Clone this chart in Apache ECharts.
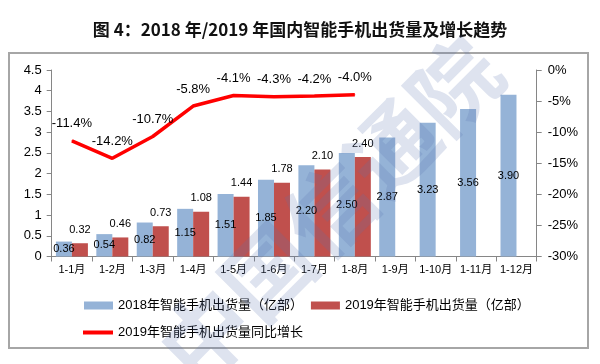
<!DOCTYPE html>
<html>
<head>
<meta charset="utf-8">
<script src="https://cdn.jsdelivr.net/npm/echarts@6/dist/echarts.min.js"></script>
<style>
html,body{margin:0;padding:0;background:#fff;}
#c{width:600px;height:364px;}
</style>
</head>
<body>
<div id="c"></div>
<script>
var categories = ['1-1月','1-2月','1-3月','1-4月','1-5月','1-6月','1-7月','1-8月','1-9月','1-10月','1-11月','1-12月'];
var ship2018 = [0.36,0.54,0.82,1.15,1.51,1.85,2.20,2.50,2.87,3.23,3.56,3.90];
var ship2019 = [0.32,0.46,0.73,1.08,1.44,1.78,2.10,2.40,null,null,null,null];
var growth2019 = [-11.4,-14.2,-10.7,-5.8,-4.1,-4.3,-4.2,-4.0,null,null,null,null];
var name2018 = '2018年智能手机出货量（亿部）';
var name2019 = '2019年智能手机出货量（亿部）';
var nameGrowth = '2019年智能手机出货量同比增长';
var titleText = '图 4：2018 年/2019 年国内智能手机出货量及增长趋势';

var FONT = '"Liberation Sans","Noto Sans CJK SC",sans-serif';
var chart = echarts.init(document.getElementById('c'), null, {renderer:'canvas'});
var axisLineStyle = {color:'#868686', width:1};
chart.setOption({
  animation:false,
  textStyle:{fontFamily:FONT},
  title:{
    text:titleText, left:'center', top:16,
    textStyle:{fontFamily:'"Noto Sans CJK SC",sans-serif', fontWeight:'bold', fontSize:17, color:'#111'}
  },
  legend:[
    {
      left:79, top:294, itemWidth:29, itemHeight:8, itemGap:8,
      icon:'rect',
      textStyle:{fontFamily:FONT, fontSize:13, color:'#000'},
      data:[{name:name2018},{name:name2019}]
    },
    {
      left:78, top:321, itemWidth:30, itemHeight:4,
      icon:'rect',
      textStyle:{fontFamily:FONT, fontSize:13, color:'#000'},
      data:[{name:nameGrowth}]
    }
  ],
  grid:{left:51.7, right:63.3, top:70, bottom:107.5, containLabel:false},
  xAxis:{
    type:'category', data:categories,
    axisLine:{lineStyle:axisLineStyle},
    axisTick:{show:true, length:5, lineStyle:axisLineStyle},
    axisLabel:{fontSize:11, color:'#000', margin:8, interval:0}
  },
  yAxis:[
    {
      type:'value', min:0, max:4.5, interval:0.5,
      axisLine:{show:true, lineStyle:axisLineStyle},
      axisTick:{show:true, length:5, lineStyle:axisLineStyle},
      splitLine:{show:false},
      axisLabel:{fontSize:13, color:'#000', margin:10}
    },
    {
      type:'value', min:-30, max:0, interval:5,
      axisLine:{show:true, lineStyle:axisLineStyle},
      axisTick:{show:true, length:5, lineStyle:axisLineStyle},
      splitLine:{show:false},
      axisLabel:{fontSize:13, color:'#000', margin:11, formatter:'{value}%'}
    }
  ],
  series:[
    {
      name:name2018, type:'bar', data:ship2018, barWidth:16, barGap:'0%',
      itemStyle:{color:'#95B3D7'},
      label:{show:true, position:'inside', fontSize:11, color:'#000', fontFamily:FONT,
        formatter:function(p){return p.value.toFixed(2);}}
    },
    {
      name:name2019, type:'bar', data:ship2019, barWidth:16,
      itemStyle:{color:'#C0504D'},
      label:{show:true, position:'top', distance:8, fontSize:11, color:'#000', fontFamily:FONT,
        formatter:function(p){return p.value == null ? '' : p.value.toFixed(2);}}
    },
    {
      name:nameGrowth, type:'line', yAxisIndex:1, data:growth2019,
      symbol:'circle', symbolSize:1, showSymbol:true,
      itemStyle:{color:'#FF0000'},
      lineStyle:{color:'#FF0000', width:3.5},
      label:{show:true, position:'top', distance:10, fontSize:13, color:'#000', fontFamily:FONT,
        formatter:function(p){return p.value == null ? '' : p.value.toFixed(1) + '%';}},
      z:5
    }
  ],
  graphic:[
    {
      type:'rect', shape:{x:9, y:53, width:579, height:295},
      style:{fill:'none', stroke:'#a6a6a6', lineWidth:2}, z:-1, silent:true
    },
    {
      type:'text', x:330, y:210, rotation:Math.PI/4,
      style:{text:'中国信通院', fontSize:88, fontWeight:'bold', fontFamily:'"Noto Sans CJK SC",sans-serif',
        fill:'#5b75b0', opacity:0.2, textAlign:'center', textVerticalAlign:'middle'},
      z:100, silent:true
    }
  ]
});
</script>
</body>
</html>
